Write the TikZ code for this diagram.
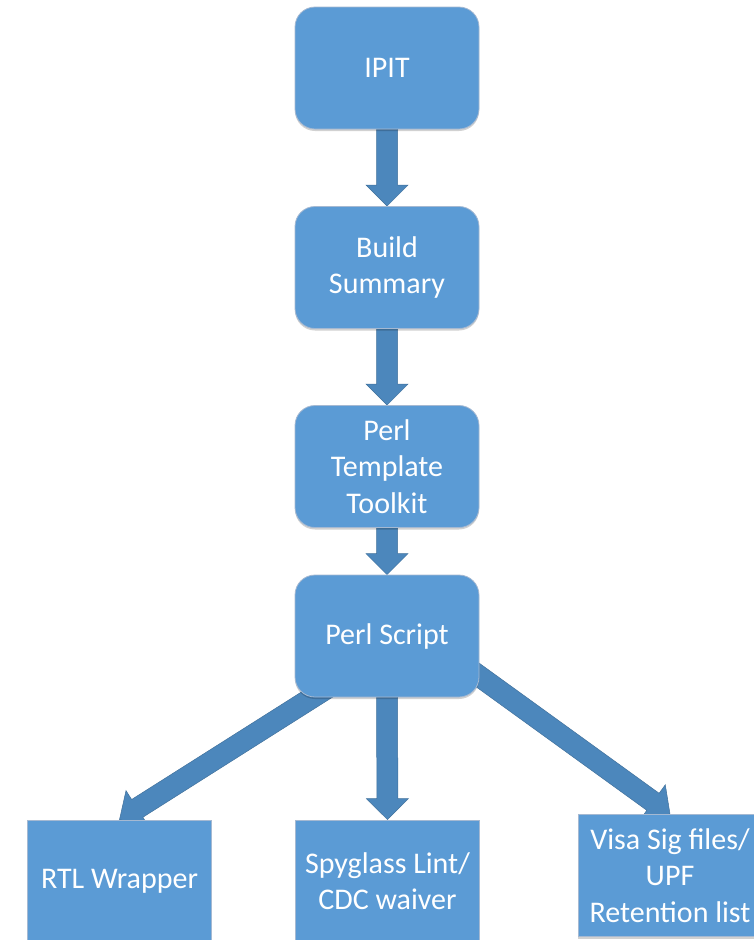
\documentclass[tikz,border=0pt]{standalone}
\usepackage{fontspec}
\setmainfont{Carlito}
\usetikzlibrary{calc,shadows}
\definecolor{boxblue}{RGB}{91,155,213}
\definecolor{boxedge}{RGB}{165,185,210}
\definecolor{arrowblue}{RGB}{76,135,188}
\definecolor{arrowedge}{RGB}{65,113,156}
\pgfdeclarelayer{bg}
\pgfsetlayers{bg,main}
\tikzset{
  flowbox/.style={rounded corners=20pt, fill=boxblue, draw=boxedge, line width=0.8pt,
    minimum width=184pt, minimum height=122pt, text=white, align=center,
    font=\fontsize{30}{36.5}\selectfont, inner sep=0pt,
    drop shadow={shadow xshift=0pt, shadow yshift=-2pt, opacity=0.18, fill=black}},
  outbox/.style={flowbox, sharp corners},
  blockarrow/.style={fill=arrowblue, draw=arrowedge, line width=0.5pt, line join=miter}
}
\newcommand\blockarrow[2]{%
  \coordinate (ba-h) at ($(#2)!21pt!(#1)$);
  \draw[blockarrow] ($(#1)!10.5pt!90:(#2)$) -- ($(ba-h)!10.5pt!90:(#2)$)
    -- ($(ba-h)!21pt!90:(#2)$) -- (#2) -- ($(ba-h)!21pt!-90:(#2)$)
    -- ($(ba-h)!10.5pt!-90:(#2)$) -- ($(#1)!10.5pt!-90:(#2)$) -- cycle;}
\begin{document}
\begin{tikzpicture}[x=1pt,y=-1pt]
\useasboundingbox (0,0) rectangle (754,940);
\clip (0,0) rectangle (754,940);
\node[flowbox] (ipit) at (387,68) {IPIT};
\node[flowbox] (bs) at (387,267.5) {Build\\Summary};
\node[flowbox] (ptt) at (387,466.5) {Perl\\Template\\Toolkit};
\node[flowbox] (ps) at (387,636) {Perl Script};
\node[outbox] (rtl) at (119.5,881) {RTL Wrapper};
\node[outbox] (spy) at (387.5,881) {Spyglass Lint/\\CDC waiver};
\node[outbox] (visa) at (670,875.5) {Visa Sig files/\\UPF\\Retention list};
\coordinate (lstart) at (340,680);
\coordinate (rstart) at (468,668);
\begin{pgfonlayer}{bg}
\blockarrow{ipit.south}{bs.north}
\blockarrow{bs.south}{ptt.north}
\blockarrow{ptt.south}{ps.north}
\blockarrow{ps.south}{spy.north}
\blockarrow{lstart}{rtl.north}
\blockarrow{rstart}{visa.north}
\end{pgfonlayer}
\end{tikzpicture}
\end{document}
